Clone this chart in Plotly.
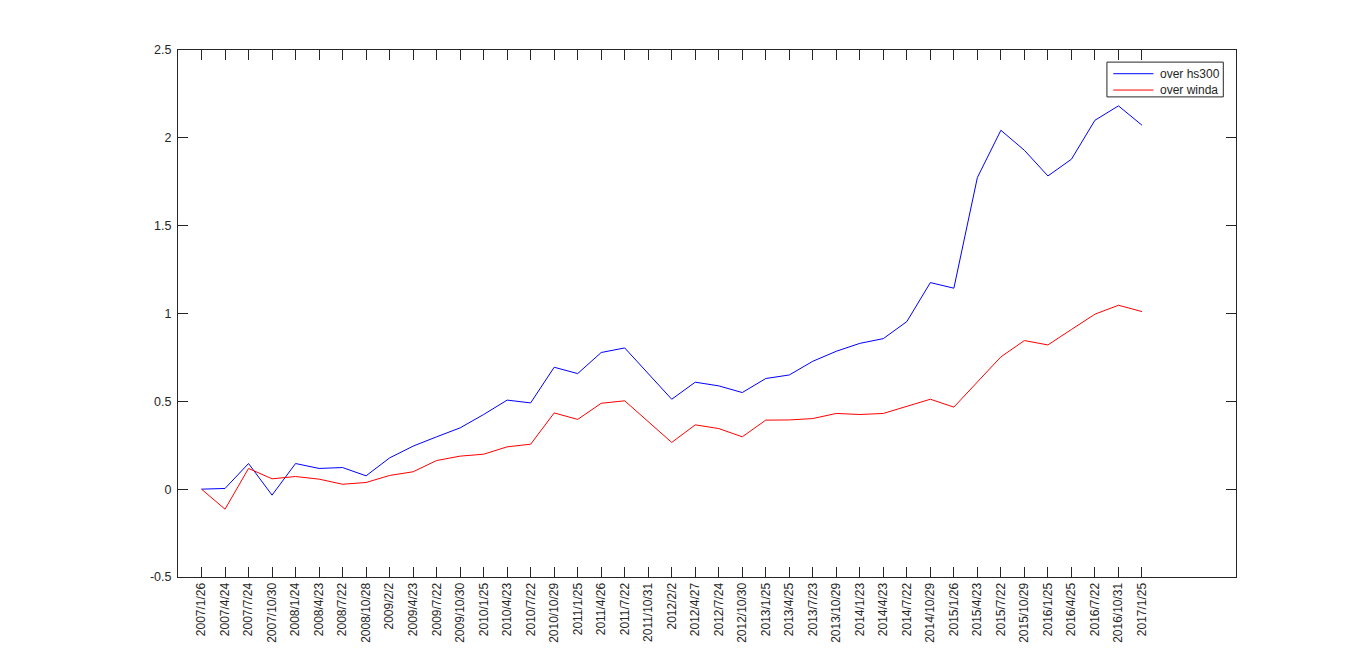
import plotly.graph_objects as go

# fechas de los rebalanceos (etiquetas del eje x)
fechas = ["2007/1/26", "2007/4/24", "2007/7/24", "2007/10/30", "2008/1/24", "2008/4/23",
          "2008/7/22", "2008/10/28", "2009/2/2", "2009/4/23", "2009/7/22", "2009/10/30",
          "2010/1/25", "2010/4/23", "2010/7/22", "2010/10/29", "2011/1/25", "2011/4/26",
          "2011/7/22", "2011/10/31", "2012/2/2", "2012/4/27", "2012/7/24", "2012/10/30",
          "2013/1/25", "2013/4/25", "2013/7/23", "2013/10/29", "2014/1/23", "2014/4/23",
          "2014/7/22", "2014/10/29", "2015/1/26", "2015/4/23", "2015/7/22", "2015/10/29",
          "2016/1/25", "2016/4/25", "2016/7/22", "2016/10/31", "2017/1/25"]
indice = list(range(1, len(fechas) + 1))

# exceso de rendimiento acumulado
over_hs300 = [0.0, 0.004, 0.146, -0.034, 0.146, 0.118, 0.123, 0.076, 0.178, 0.245,
              0.298, 0.349, 0.425, 0.507, 0.491, 0.694, 0.658, 0.778, 0.804, 0.658,
              0.512, 0.609, 0.588, 0.55, 0.63, 0.65, 0.728, 0.785, 0.83, 0.857,
              0.954, 1.176, 1.144, 1.774, 2.043, 1.929, 1.783, 1.878, 2.1, 2.182, 2.072]
over_winda = [0.0, -0.114, 0.118, 0.059, 0.072, 0.057, 0.028, 0.038, 0.078, 0.099,
              0.163, 0.188, 0.199, 0.241, 0.256, 0.434, 0.397, 0.489, 0.503, 0.385,
              0.266, 0.366, 0.345, 0.298, 0.393, 0.394, 0.402, 0.431, 0.425, 0.431,
              0.472, 0.512, 0.467, 0.611, 0.753, 0.846, 0.821, 0.909, 0.996, 1.047, 1.011]

series = [("over hs300", over_hs300, "#0000ff"), ("over winda", over_winda, "#ff0000")]

y_ticks = [-0.5, 0, 0.5, 1, 1.5, 2, 2.5]
y_labels = ["-0.5", "0", "0.5", "1", "1.5", "2", "2.5"]

gris = "#262626"

fig = go.Figure()
for nombre, valores, color in series:
    fig.add_trace(go.Scatter(x=indice, y=valores, mode="lines", name=nombre,
                             line=dict(color=color, width=1)))

eje = dict(showgrid=False, zeroline=False, showline=True, linecolor=gris, linewidth=1,
           ticks="inside", ticklen=10, tickcolor=gris, mirror="allticks")

fig.update_xaxes(range=[0, 45], tickvals=indice, ticktext=fechas, tickangle=-90,
                 tickfont=dict(size=12, color=gris), **eje)
fig.update_yaxes(range=[-0.5, 2.5], tickvals=y_ticks, ticktext=y_labels,
                 tickfont=dict(size=12.5, color=gris), ticklabelstandoff=3, **eje)

# leyenda compacta estilo matlab (caja, muestras de linea y textos)
fig.add_shape(type="rect", xref="paper", yref="paper", x0=0.878, x1=0.988,
              y0=0.911, y1=0.977, line=dict(color=gris, width=1), fillcolor="white")
fila_y = [0.955, 0.924]
for (nombre, _, color), yy in zip(series, fila_y):
    fig.add_shape(type="line", xref="paper", yref="paper", x0=0.884, x1=0.922,
                  y0=yy, y1=yy, line=dict(color=color, width=1))
    fig.add_annotation(xref="paper", yref="paper", x=0.926, y=yy, text=nombre,
                       showarrow=False, xanchor="left", yanchor="middle",
                       font=dict(size=12, color=gris))

fig.update_layout(
    width=1366, height=650,
    margin=dict(l=170, r=138, t=42, b=81),
    paper_bgcolor="white", plot_bgcolor="white",
    font=dict(family="Liberation Sans, Arial, sans-serif", size=12, color=gris),
    showlegend=False,
)

fig.write_html("out.html")
